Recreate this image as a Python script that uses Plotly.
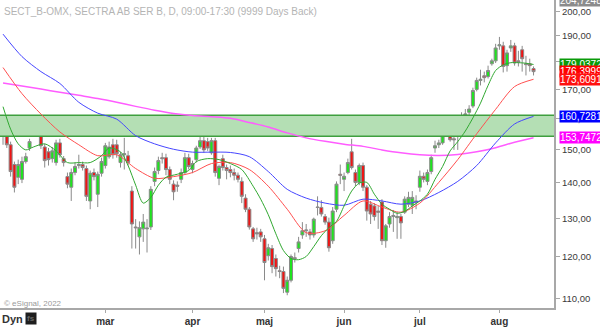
import math
import pandas as pd
import plotly.graph_objects as go

# ---------------- data ----------------
start_date = "2022-01-21"
end_date = "2022-08-12"
holidays = ["2022-04-15", "2022-04-18", "2022-05-26", "2022-06-06", "2022-06-24"]

open_ = [155.6,156.2,151.5,145.4,141.6,141.0,146.3,150.5,156.0,158.2,
         156.5,150.8,149.3,147.2,146.0,152.1,147.2,141.8,138.7,143.0,
         145.1,145.4,144.2,134.8,143.0,136.7,142.8,145.1,147.8,151.5,
         151.5,146.0,148.4,148.1,137.6,127.7,125.1,127.2,127.2,127.7,
         140.4,143.6,147.5,147.5,143.9,139.6,139.3,141.0,143.0,147.5,
         143.9,146.9,150.8,152.8,152.5,149.0,152.8,141.3,147.2,144.5,
         143.9,143.0,142.2,140.4,135.6,132.5,127.2,126.2,126.4,124.6,
         120.3,122.1,119.6,116.6,116.4,111.5,114.3,119.8,122.1,125.6,
         126.7,126.4,125.6,133.1,133.0,130.5,129.0,124.1,132.5,142.5,
         141.0,143.0,149.3,143.0,140.1,145.1,138.7,133.9,133.4,132.0,
         134.5,124.1,128.5,130.5,130.2,130.5,131.7,133.9,133.6,134.8,
         138.7,141.9,140.4,143.3,150.5,151.5,152.1,155.6,157.0,153.4,
         155.3,158.8,161.2,162.1,164.2,170.0,173.2,174.9,174.6,179.3,
         180.4,186.1,186.1,178.6,185.3,186.1,180.4,184.6,179.3,179.3,
         177.5]
high = [158.8,157.5,152.5,146.3,146.9,147.8,149.0,153.4,157.5,160.2,
        157.5,151.8,150.5,150.8,153.1,153.4,148.0,143.0,144.2,146.0,
        148.4,146.3,145.1,143.6,144.2,143.3,147.5,152.1,152.5,153.4,
        153.1,149.3,153.7,149.6,139.0,129.8,129.2,131.2,129.8,139.0,
        144.5,147.8,149.0,148.7,144.8,140.7,140.4,144.2,149.0,148.7,
        146.6,151.2,157.3,155.9,153.7,153.7,153.7,145.4,148.4,145.4,
        145.1,144.2,143.0,141.6,136.7,133.1,127.7,127.5,127.2,125.6,
        123.3,123.0,120.6,117.8,117.6,115.2,120.6,121.1,125.1,129.0,
        128.5,127.2,130.2,136.1,135.0,131.2,130.2,133.1,140.4,145.4,
        143.0,147.2,153.4,143.9,145.7,146.0,139.3,134.8,134.2,133.4,
        135.3,128.5,131.7,132.3,131.7,131.2,136.1,137.4,137.6,136.4,
        143.6,143.0,143.9,148.4,152.8,153.1,157.0,157.6,158.5,155.6,
        158.8,162.1,163.2,164.5,170.6,174.2,177.1,176.4,178.6,181.2,
        186.9,189.6,187.7,184.6,188.4,187.3,184.2,186.1,182.3,181.2,
        178.3]
low = [151.5,150.5,141.8,137.2,139.6,139.9,145.7,149.6,154.7,156.2,
       150.2,144.5,145.1,146.0,145.1,147.5,144.8,138.4,134.8,142.2,
       144.2,143.6,134.8,132.5,140.7,133.1,141.8,144.2,147.2,147.2,
       147.5,144.5,143.9,145.1,122.1,122.1,120.6,123.8,121.1,126.9,
       139.0,142.5,145.7,142.2,139.6,135.0,137.4,139.9,142.5,143.9,
       142.8,146.0,150.2,149.0,149.6,148.4,141.8,139.3,143.6,141.0,
       141.6,140.7,140.1,134.2,131.7,127.0,123.8,124.4,123.8,114.3,
       119.1,116.0,115.2,114.8,111.3,110.8,113.8,118.6,121.1,124.6,
       125.1,124.4,124.9,130.8,130.5,128.3,121.3,123.3,131.7,139.6,
       137.6,142.5,143.9,139.0,139.3,137.6,129.4,128.5,129.4,127.2,
       123.0,122.3,127.5,126.4,124.6,124.6,131.2,133.1,131.2,132.5,
       137.4,140.1,139.3,142.5,149.0,150.5,151.5,154.4,152.5,149.9,
       149.9,157.9,156.2,160.8,163.5,169.3,171.4,172.5,173.9,178.6,
       179.6,184.6,176.1,176.4,183.8,178.6,178.3,176.4,175.0,176.4,
       175.0]
close = [157.9,151.5,143.3,138.7,145.4,146.3,147.8,152.5,156.3,157.0,
         151.2,146.6,146.9,149.6,152.1,148.4,146.0,139.6,143.0,144.8,
         145.4,144.5,136.1,142.8,141.8,142.5,146.3,151.2,150.8,148.4,
         148.7,148.4,148.7,146.0,128.5,127.5,127.5,129.0,127.4,138.1,
         143.3,146.6,147.2,143.9,141.0,137.4,139.0,143.0,147.5,144.8,
         145.7,150.5,152.8,149.9,150.5,152.8,143.0,144.8,144.5,143.6,
         143.0,142.2,141.0,136.1,132.5,127.7,124.6,125.9,125.1,118.6,
         122.3,117.6,117.1,116.4,112.4,114.3,120.1,119.6,123.8,126.7,
         126.9,125.6,129.8,133.0,131.2,129.0,122.3,132.0,139.6,142.2,
         141.9,146.0,144.5,140.1,145.1,138.7,132.0,131.2,130.5,131.7,
         124.1,128.0,130.5,130.8,130.5,128.8,135.3,135.8,135.8,134.5,
         141.9,141.0,143.0,147.5,151.2,152.1,156.2,156.5,153.1,153.1,
         157.9,160.8,161.5,163.2,169.6,173.2,173.6,174.2,176.8,180.4,
         185.3,186.5,178.3,183.4,186.1,179.6,180.0,181.2,179.0,178.6,
         176.4]

# moving averages (sample dates)
ma_dates = ["2022-01-21","2022-01-28","2022-02-04","2022-02-11","2022-02-18",
            "2022-02-25","2022-03-04","2022-03-11","2022-03-18","2022-03-25",
            "2022-04-01","2022-04-08","2022-04-19","2022-04-26","2022-05-03",
            "2022-05-10","2022-05-17","2022-05-24","2022-06-01","2022-06-09",
            "2022-06-16","2022-06-23","2022-07-01","2022-07-08","2022-07-15",
            "2022-07-22","2022-07-29","2022-08-05","2022-08-12"]
ma50 = [190.7,182.0,176.4,172.1,165.5,161.8,159.8,154.4,151.8,150.1,
        149.2,149.2,149.1,147.8,143.3,138.1,135.6,134.2,133.6,135.3,
        134.8,133.9,134.8,137.2,140.4,145.1,152.1,158.2,160.7281]
ma20 = [177.9,168.5,161.5,155.6,151.5,148.1,148.4,144.2,141.3,141.8,
        143.0,145.7,146.0,143.9,139.0,132.5,126.2,126.7,130.8,134.8,
        133.1,131.7,134.2,140.1,146.9,155.0,163.1,171.0,173.6091]
ma200 = [172.3,171.2,170.1,169.0,167.9,166.8,165.5,164.1,162.8,161.7,
         161.0,160.6,160.1,158.7,157.2,155.3,153.7,152.6,151.7,151.0,
         149.9,149.0,148.4,148.2,148.5,149.3,150.6,152.3,153.7472]
ma10_dates = ["2022-01-21","2022-01-25","2022-01-27","2022-01-31","2022-02-02",
              "2022-02-07","2022-02-10","2022-02-15","2022-02-18","2022-02-23",
              "2022-02-28","2022-03-02","2022-03-07","2022-03-09","2022-03-11",
              "2022-03-15","2022-03-17","2022-03-21","2022-03-23","2022-03-28",
              "2022-03-31","2022-04-04","2022-04-07","2022-04-12","2022-04-19",
              "2022-04-22","2022-04-27","2022-04-29","2022-05-03","2022-05-05",
              "2022-05-09","2022-05-11","2022-05-13","2022-05-17","2022-05-19",
              "2022-05-23","2022-05-25","2022-05-30","2022-06-01","2022-06-03",
              "2022-06-08","2022-06-10","2022-06-14","2022-06-16","2022-06-20",
              "2022-06-22","2022-06-27","2022-06-29","2022-07-01","2022-07-05",
              "2022-07-07","2022-07-11","2022-07-13","2022-07-15","2022-07-19",
              "2022-07-21","2022-07-25","2022-07-27","2022-07-29","2022-08-02",
              "2022-08-04","2022-08-08","2022-08-10","2022-08-12"]
ma10 = [164.0,156.5,151.8,149.9,150.8,151.8,149.6,146.0,146.0,146.0,
        148.1,150.5,149.3,145.1,139.3,134.2,135.8,139.3,141.6,142.5,
        143.6,146.3,147.2,146.9,145.7,143.9,139.0,135.3,131.0,125.9,
        121.6,119.6,119.3,120.1,122.6,125.4,127.5,129.2,133.4,137.6,
        139.9,140.1,136.7,133.9,132.5,131.4,131.9,133.4,134.8,136.7,
        141.0,144.8,149.6,152.5,155.9,160.2,165.2,171.4,176.8,178.9,
        179.7,179.7,179.5,179.0372]

zone_low = 154.2
zone_high = 161.1

y_ticks = [110, 120, 130, 140, 150, 160, 170, 180, 190, 200]
y_min, y_max = 107.9, 204.7248
month_nums = [3, 4, 5, 6, 7, 8]
month_labels = ["mar", "apr", "maj", "jun", "jul", "aug"]

price_labels = [204.7248, 179.0372, 176.3999, 173.6091, 160.7281, 153.7472]
price_label_colors = ["#8c8c8c", "#0a9a0a", "#ff0000", "#ff1010", "#0000ff", "#ff00ff"]

title_text = "SECT_B-OMX, SECTRA AB SER B, D, 09:00-17:30 (9999 Days Back)"

# ---------------- build ----------------
days = [d for d in pd.bdate_range(start_date, end_date) if d.strftime("%Y-%m-%d") not in holidays]
pos = {d.strftime("%Y-%m-%d"): i for i, d in enumerate(days)}
xi = list(range(len(days)))

tickvals = []
for m in month_nums:
    tickvals.append(next(i for i, d in enumerate(days) if d.month == m))

x_lo, x_hi = -0.8, len(days) + 4.4

fig = go.Figure()

# zone
fig.add_trace(go.Scatter(x=[x_lo - 1, x_hi + 1, x_hi + 1, x_lo - 1, x_lo - 1],
                         y=[zone_low, zone_low, zone_high, zone_high, zone_low],
                         mode="lines", fill="toself", fillcolor="#b4dfb4",
                         line=dict(color="#3f9f3f", width=1.5), hoverinfo="skip",
                         showlegend=False))

fig.add_trace(go.Candlestick(x=xi, open=open_, high=high, low=low, close=close,
                             increasing=dict(fillcolor="#1ee41e", line=dict(color="#8a8a8a", width=1)),
                             decreasing=dict(fillcolor="#f01414", line=dict(color="#8a8a8a", width=1)),
                             whiskerwidth=0, showlegend=False, hoverinfo="skip"))

def ma_trace(dates, vals, color, width):
    return go.Scatter(x=[pos[d] for d in dates], y=vals, mode="lines",
                      line=dict(color=color, width=width, shape="spline", smoothing=0.8),
                      hoverinfo="skip", showlegend=False)

fig.add_trace(ma_trace(ma_dates, ma200, "#ff5cff", 1.5))
fig.add_trace(ma_trace(ma_dates, ma50, "#4646ff", 1.0))
fig.add_trace(ma_trace(ma_dates, ma20, "#ff5050", 1.0))
fig.add_trace(ma_trace(ma10_dates, ma10, "#30a830", 1.0))

# price flags on the right axis
fig.add_trace(go.Scatter(x=[x_hi + 1.2] * len(price_labels), y=price_labels, mode="markers",
                         marker=dict(symbol="triangle-left", size=9, color=price_label_colors),
                         cliponaxis=False, hoverinfo="skip", showlegend=False))

annotations = []
for v, c in zip(price_labels, price_label_colors):
    annotations.append(dict(xref="paper", x=1, xanchor="left", xshift=5,
                            yref="y", y=math.log10(v), yanchor="middle",
                            text=f"{v:.4f}".replace(".", ","), showarrow=False,
                            bgcolor=c, borderpad=0,
                            font=dict(family="Liberation Sans, Arial", size=10, color="white")))

annotations.append(dict(xref="paper", yref="paper", x=0, y=1, xanchor="left", yanchor="top",
                        xshift=2, yshift=-4, showarrow=False, text=title_text,
                        font=dict(family="Liberation Sans, Arial", size=10, color="#b4b4b4")))
annotations.append(dict(xref="paper", yref="paper", x=0, y=0, xanchor="left", yanchor="bottom",
                        xshift=2, yshift=-2, showarrow=False, text="© eSignal, 2022",
                        font=dict(family="Liberation Sans, Arial", size=8, color="#9a9a9a")))
annotations.append(dict(xref="paper", yref="paper", x=0, y=0, xanchor="left", yanchor="top",
                        xshift=0, yshift=-3, showarrow=False, text="<b>Dyn</b>",
                        font=dict(family="Liberation Sans, Arial", size=11, color="#333333")))
annotations.append(dict(xref="paper", yref="paper", x=0, y=0, xanchor="left", yanchor="top",
                        xshift=25, yshift=-4, showarrow=False, text="<b>fs</b>",
                        bgcolor="#1e1e1e", borderpad=1,
                        font=dict(family="Liberation Sans, Arial", size=8, color="#666666")))

fig.update_layout(
    width=600, height=327,
    margin=dict(l=0, r=46, t=0, b=17),
    paper_bgcolor="white", plot_bgcolor="white",
    separators=", ",
    boxgap=0.12, boxgroupgap=0.1,
    showlegend=False,
    annotations=annotations,
    xaxis=dict(range=[x_lo, x_hi], showgrid=False, zeroline=False, showline=True,
               linecolor="#a8a8a8", linewidth=2, ticks="outside", ticklen=3,
               tickcolor="#a8a8a8", tickvals=tickvals,
               ticktext=[f"<b>{m}</b>" for m in month_labels],
               tickfont=dict(family="Liberation Sans, Arial", size=10, color="#333333"),
               rangeslider=dict(visible=False), fixedrange=True),
    yaxis=dict(type="log", side="right", range=[math.log10(y_min), math.log10(y_max)],
               showgrid=False, zeroline=False, showline=True, linecolor="#a8a8a8",
               linewidth=2, ticks="outside", ticklen=4, tickcolor="#a8a8a8",
               tickvals=y_ticks, tickformat=".2f",
               tickfont=dict(family="Liberation Sans, Arial", size=9.5, color="#3a3a3a"),
               fixedrange=True),
)

fig.write_html("out.html")
